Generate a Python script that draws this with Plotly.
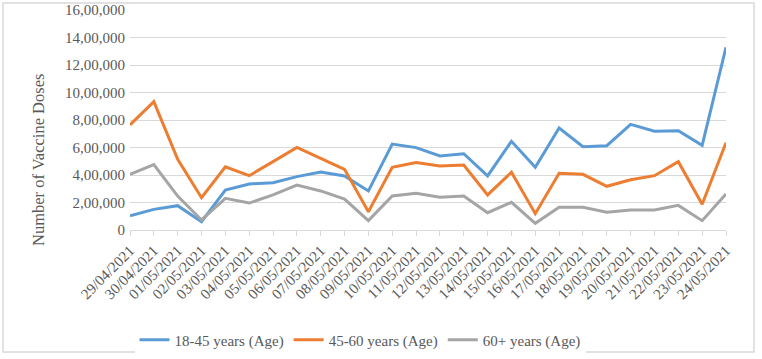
import plotly.graph_objects as go

dates = ["29/04/2021", "30/04/2021", "01/05/2021", "02/05/2021", "03/05/2021",
         "04/05/2021", "05/05/2021", "06/05/2021", "07/05/2021", "08/05/2021",
         "09/05/2021", "10/05/2021", "11/05/2021", "12/05/2021", "13/05/2021",
         "14/05/2021", "15/05/2021", "16/05/2021", "17/05/2021", "18/05/2021",
         "19/05/2021", "20/05/2021", "21/05/2021", "22/05/2021", "23/05/2021",
         "24/05/2021"]

age_18_45 = [104000, 150000, 177000, 60000, 291000, 335000, 344000, 388000, 422000, 393000,
             284000, 625000, 599000, 538000, 555000, 393000, 645000, 456000, 742000, 606000,
             613000, 768000, 718000, 722000, 616000, 1329000]
age_45_60 = [764000, 933000, 514000, 235000, 460000, 395000, 497000, 601000, 521000, 441000,
             133000, 456000, 490000, 465000, 473000, 255000, 420000, 119000, 412000, 405000,
             318000, 366000, 395000, 497000, 187000, 635000]
age_60_plus = [405000, 475000, 247000, 73000, 230000, 196000, 255000, 327000, 284000, 225000,
               68000, 247000, 267000, 238000, 247000, 126000, 201000, 49000, 165000, 165000,
               129000, 145000, 145000, 179000, 68000, 262000]

series_names = ["18-45 years (Age)", "45-60 years (Age)", "60+ years (Age)"]
series_colors = ["#5B9BD5", "#ED7D31", "#A5A5A5"]

y_tick_values = [0, 200000, 400000, 600000, 800000, 1000000, 1200000, 1400000, 1600000]
y_tick_labels = ["0", "2,00,000", "4,00,000", "6,00,000", "8,00,000", "10,00,000",
                 "12,00,000", "14,00,000", "16,00,000"]

FONT = "Liberation Serif"
TXT = "#595959"
GRID = "#D9D9D9"

fig = go.Figure()
for name, vals, col in zip(series_names, [age_18_45, age_45_60, age_60_plus], series_colors):
    fig.add_trace(go.Scatter(x=dates, y=vals, name=name, mode="lines",
                             line=dict(color=col, width=3)))

W, H = 762, 359
L, R, T, B = 130, 36, 10, 129
pw, ph = W - L - R, H - T - B


def px_to_paper_x(p):
    return (p - L) / pw


def px_to_paper_y(p):
    return (H - B - p) / ph


fig.update_layout(
    width=W, height=H,
    margin=dict(l=L, r=R, t=T, b=B, autoexpand=False),
    paper_bgcolor="white", plot_bgcolor="white",
    font=dict(family=FONT, color=TXT, size=15),
    showlegend=True,
    hovermode=False,
    legend=dict(orientation="h", x=px_to_paper_x(360), xanchor="center",
                y=px_to_paper_y(340), yanchor="middle",
                font=dict(family=FONT, size=15, color=TXT),
                itemwidth=30, tracegroupgap=0),
    xaxis=dict(type="category", range=[0, len(dates) - 1], showgrid=False,
               automargin=False,
               showline=True, linecolor=GRID, linewidth=1,
               ticks="outside", ticklen=5, tickcolor=GRID, tickwidth=1,
               tickangle=-45, tickfont=dict(family=FONT, size=15, color=TXT)),
    yaxis=dict(range=[0, 1600000], tickvals=y_tick_values, ticktext=y_tick_labels,
               automargin=False,
               showgrid=True, gridcolor=GRID, gridwidth=1, zeroline=False,
               showline=False, tickfont=dict(family=FONT, size=15, color=TXT),
               ticklabelstandoff=4),
    shapes=[dict(type="rect", xref="paper", yref="paper",
                 x0=px_to_paper_x(3), x1=px_to_paper_x(754),
                 y0=px_to_paper_y(352), y1=px_to_paper_y(3),
                 line=dict(color="#D9D9D9", width=1.5), fillcolor="rgba(0,0,0,0)",
                 layer="below")],
    annotations=[dict(text="Number of Vaccine Doses", xref="paper", yref="paper",
                      x=px_to_paper_x(38), y=px_to_paper_y(160), textangle=-90,
                      showarrow=False, xanchor="center", yanchor="middle",
                      font=dict(family=FONT, size=16.5, color=TXT))],
)

fig.write_html("out.html",
               config={"displayModeBar": False, "staticPlot": True},
               post_script="document.body.style.margin='0';document.body.style.overflow='hidden';")
